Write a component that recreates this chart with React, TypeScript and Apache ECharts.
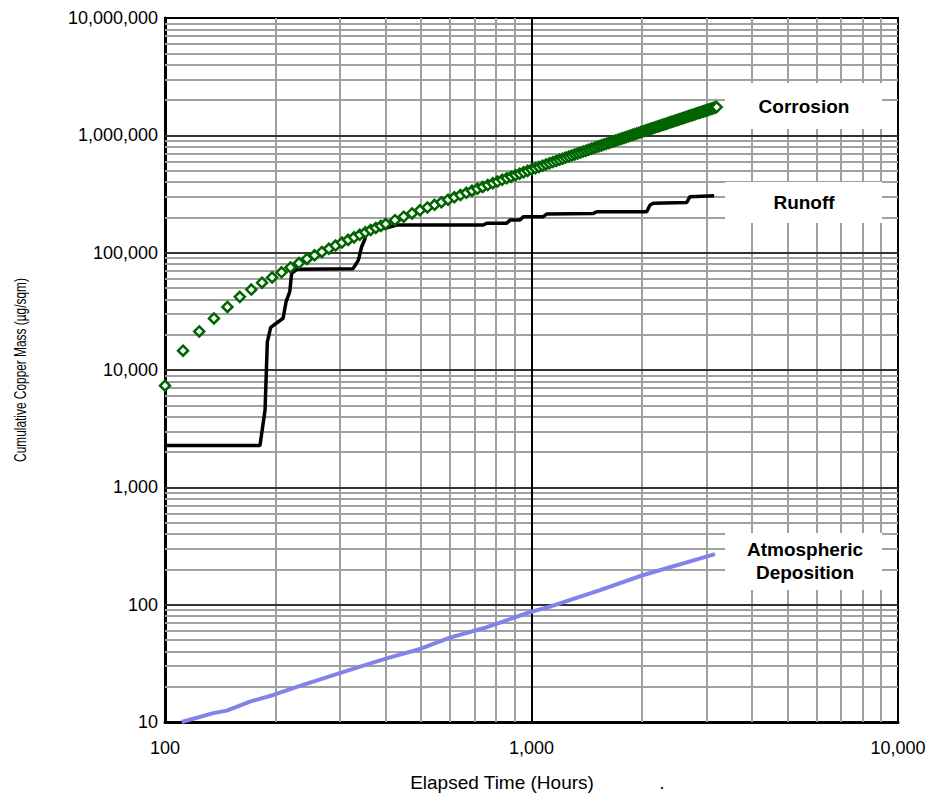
import React, { useEffect, useRef } from "react";
import * as echarts from "echarts";

// Corrosion (hollow green diamonds)
const corrosionHours = [
  100, 112, 124, 136, 148, 160, 172, 184, 196, 208, 220, 232, 244, 256, 268, 280, 292, 304, 316, 328, 340, 352, 364, 376, 388, 400,
  424, 448, 472, 496, 520, 544, 568, 592, 616, 640, 664, 688, 712, 736, 760, 784, 808, 832, 856, 880, 904, 928, 952, 976, 1000,
  1024, 1048, 1072, 1096, 1120, 1144, 1168, 1192, 1216, 1240, 1264, 1288, 1312, 1336, 1360, 1384, 1408, 1432, 1456, 1480,
  1504, 1528, 1552, 1576, 1600, 1624, 1648, 1672, 1696, 1720, 1744, 1768, 1792, 1816, 1840, 1864, 1888, 1912, 1936, 1960,
  1984, 2008, 2032, 2056, 2080, 2104, 2128, 2152, 2176, 2200, 2224, 2248, 2272, 2296, 2320, 2344, 2368, 2392, 2416, 2440,
  2464, 2488, 2512, 2536, 2560, 2584, 2608, 2632, 2656, 2680, 2704, 2728, 2752, 2776, 2800, 2824, 2848, 2872, 2896, 2920,
  2944, 2968, 2992, 3016, 3040, 3064, 3088, 3112, 3136, 3160, 3184, 3200,
];
const corrosionMass = [
  7350, 14600, 21300, 27500, 34500, 42000, 48500, 55500, 61500, 68000, 74800, 81500, 88500, 95000, 101500, 108000, 115000, 122000, 128500, 135000, 142000, 149000, 156000, 162500, 169000, 175500,
  189000, 202500, 216000, 229500, 243000, 256000, 269500, 283000, 296500, 310000, 323500, 337000, 350000, 363500, 377000, 390500, 404000, 417500, 431000, 444000, 457500, 471000, 484500, 498000, 511500,
  525000, 538000, 551500, 565000, 578500, 592000, 605500, 619000, 632500, 646000, 659500, 673000, 686500, 700000, 713500, 727000, 740000, 753500, 767000, 780500,
  794000, 807500, 821000, 834000, 847500, 861000, 874500, 888000, 901500, 915000, 928500, 942000, 955500, 969000, 982000, 995500, 1009000, 1022000, 1035500, 1049000,
  1062500, 1076000, 1089500, 1103000, 1116500, 1130000, 1143500, 1157000, 1170500, 1184000, 1197000, 1210000, 1224000, 1237000, 1251000, 1264000, 1278000, 1291000, 1305000, 1318000,
  1332000, 1345000, 1359000, 1372000, 1385000, 1398000, 1412000, 1425000, 1439000, 1452000, 1466000, 1479000, 1493000, 1506000, 1520000, 1533000, 1547000, 1560000, 1574000, 1587000,
  1600000, 1613000, 1627000, 1640000, 1654000, 1667000, 1681000, 1694000, 1708000, 1721000, 1735000, 1743000,
];

// Runoff (black line)
const runoffHours = [
  100, 181.6, 187.5, 190.2, 194.3, 210, 214, 219, 221.6, 228.8, 326, 337, 344, 351, 355, 398, 429, 739, 755, 856, 874, 930, 950,
  1077, 1100, 1475, 1507, 2062, 2106, 2150, 2652, 2707, 3150,
];
const runoffMass = [
  2270, 2270, 4560, 17400, 23100, 27600, 38200, 46500, 66700, 72100, 73000, 86500, 112400, 130000, 156000, 161500, 172000, 172000, 178000, 178000, 190000, 190000, 202600,
  202600, 213600, 216000, 223500, 223500, 254800, 263500, 268000, 300000, 306000,
];

// Atmospheric deposition (light blue-violet line)
const atmosHours = [111, 135.5, 147.4, 170.6, 197.5, 233.5, 294, 347.6, 402.6, 496.5, 599, 739, 911, 1000, 1123, 1538, 2019, 3167];
const atmosMass = [10, 11.9, 12.5, 14.9, 17.0, 20.3, 25.6, 30.2, 34.9, 41.9, 52.3, 62.9, 78.9, 87.1, 96.1, 133, 179, 270];

// Axes
const xDecades = [100, 1000, 10000];
const yDecades = [10, 100, 1000, 10000, 100000, 1000000, 10000000];
const minorMultipliers = [2, 3, 4, 5, 6, 7, 8, 9];

const seriesNames = ["Corrosion", "Runoff", "Atmospheric\nDeposition"];
const xTitle = "Elapsed Time (Hours)";
const yTitle = "Cumulative Copper Mass (\u00b5g/sqm)";

const pair = (xs: number[], ys: number[]) => xs.map((x, i) => [x, ys[i]]);

export default function App() {
  const ref = useRef<HTMLDivElement>(null);
  useEffect(() => {
    if (!ref.current) return;
    const chart = echarts.init(ref.current, null, { renderer: "svg" });

    const minorGray = { color: "#a0a0a0", width: 2, type: "solid" as const };
    const gridLines: any[] = [];
    xDecades.slice(0, -1).forEach((d) =>
      minorMultipliers.forEach((m) => gridLines.push({ xAxis: d * m, lineStyle: minorGray }))
    );
    yDecades.slice(0, -1).forEach((d) =>
      minorMultipliers.forEach((m) => gridLines.push({ yAxis: d * m, lineStyle: minorGray }))
    );
    yDecades.slice(1, -1).forEach((d) =>
      gridLines.push({ yAxis: d, lineStyle: { color: "#333", width: 2, type: "solid" } })
    );
    xDecades.slice(1, -1).forEach((d) =>
      gridLines.push({ xAxis: d, lineStyle: { color: "#000", width: 2, type: "solid" } })
    );

    const fmt = (v: number) => Math.round(v).toLocaleString("en-US");
    const font = "Liberation Sans, Arial, sans-serif";

    const boxes = [
      { x: 725, y: 83, w: 157, h: 46, text: seriesNames[0], cx: 804, cy: 106 },
      { x: 725, y: 182, w: 157, h: 41, text: seriesNames[1], cx: 804, cy: 202 },
      { x: 725, y: 533, w: 157, h: 57, text: seriesNames[2], cx: 805, cy: 561 },
    ];

    chart.setOption({
      animation: false,
      backgroundColor: "#fff",
      grid: {
        left: 165,
        right: 34,
        top: 18,
        bottom: 73,
        show: true,
        borderColor: "#000",
        borderWidth: 2,
        backgroundColor: "transparent",
      },
      xAxis: {
        type: "log",
        logBase: 10,
        min: 100,
        max: 10000,
        splitNumber: 2,
        axisLine: { show: true, lineStyle: { color: "#000", width: 3 } },
        axisTick: { show: false },
        splitLine: { show: false },
        axisLabel: { formatter: fmt, color: "#000", fontSize: 18, fontFamily: font, margin: 17 },
      },
      yAxis: {
        type: "log",
        logBase: 10,
        min: 10,
        max: 10000000,
        splitNumber: 6,
        axisLine: { show: true, lineStyle: { color: "#000", width: 3 } },
        axisTick: { show: false },
        splitLine: { show: false },
        axisLabel: { formatter: fmt, color: "#000", fontSize: 18, fontFamily: font, margin: 7 },
      },
      series: [
        {
          name: "grid",
          type: "line",
          data: [[100, 10]],
          symbol: "none",
          lineStyle: { width: 0 },
          silent: true,
          z: 1,
          markLine: {
            z: 1,
            silent: true,
            symbol: ["none", "none"],
            label: { show: false },
            lineStyle: { type: "solid" },
            data: gridLines,
          },
        },
        {
          name: "Atmospheric Deposition",
          type: "line",
          data: pair(atmosHours, atmosMass),
          symbol: "none",
          lineStyle: { color: "#8282ea", width: 4 },
          z: 11,
        },
        {
          name: "Runoff",
          type: "line",
          data: pair(runoffHours, runoffMass),
          symbol: "none",
          lineStyle: { color: "#000", width: 3.5 },
          z: 12,
        },
        {
          name: "Corrosion",
          type: "scatter",
          data: pair(corrosionHours, corrosionMass),
          symbol: "diamond",
          symbolSize: 10,
          itemStyle: { color: "#fff", borderColor: "#006400", borderWidth: 2.5, opacity: 1 },
          z: 13,
        },
      ],
      graphic: [
        ...boxes.map((b) => ({
          type: "rect",
          z: 10,
          shape: { x: b.x, y: b.y, width: b.w, height: b.h },
          style: { fill: "#fff" },
          silent: true,
        })),
        ...boxes.map((b) => ({
          type: "text",
          z: 15,
          x: b.cx,
          y: b.cy,
          style: {
            text: b.text,
            fill: "#000",
            font: `bold 19px ${font}`,
            align: "center",
            verticalAlign: "middle",
            lineHeight: 23,
          },
          silent: true,
        })),
        {
          type: "text",
          z: 15,
          x: 20,
          y: 370,
          rotation: Math.PI / 2,
          scaleX: 0.7,
          style: { text: yTitle, fill: "#000", font: `17px ${font}`, align: "center", verticalAlign: "middle" },
        },
        {
          type: "text",
          z: 15,
          x: 502,
          y: 782,
          style: { text: xTitle, fill: "#000", font: `19px ${font}`, align: "center", verticalAlign: "middle" },
        },
        {
          type: "text",
          z: 15,
          x: 662,
          y: 782,
          style: { text: ".", fill: "#000", font: `19px ${font}`, align: "center", verticalAlign: "middle" },
        },
      ],
    });
    return () => chart.dispose();
  }, []);
  return <div ref={ref} style={{ position: "fixed", left: 0, top: 0, width: 932, height: 795 }} />;
}
